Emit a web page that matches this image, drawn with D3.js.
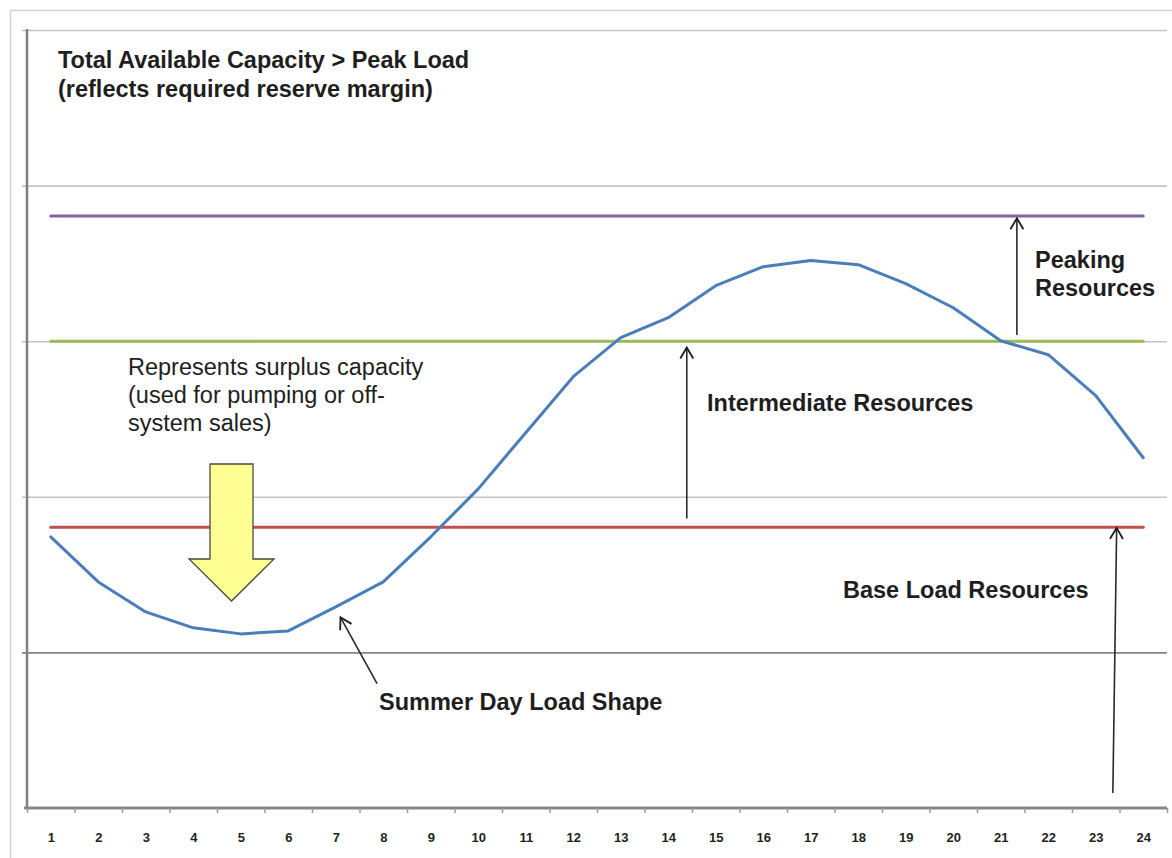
<!DOCTYPE html>
<html><head><meta charset="utf-8">
<script src="https://cdn.jsdelivr.net/npm/d3@7/dist/d3.min.js"></script>
<style>
body{margin:0;background:#fff}
svg{display:block}
text{font-family:"Liberation Sans",Arial,sans-serif;fill:#1e1e1e}
</style>
</head><body>
<svg id="chart" width="1172" height="858"></svg>
<script>
// ---- data ----
const hours = [1,2,3,4,5,6,7,8,9,10,11,12,13,14,15,16,17,18,19,20,21,22,23,24];
const hourLabels = ["1","2","3","4","5","6","7","8","9","10","11","12","13","14","15","16","17","18","19","20","21","22","23","24"];
const summerDayLoad = [1.743,1.453,1.260,1.158,1.119,1.138,1.293,1.453,1.743,2.051,2.412,2.772,3.023,3.151,3.357,3.479,3.518,3.492,3.370,3.215,3.003,2.913,2.650,2.251];
const baseLoadLevel = [1.805,1.805,1.805,1.805,1.805,1.805,1.805,1.805,1.805,1.805,1.805,1.805,1.805,1.805,1.805,1.805,1.805,1.805,1.805,1.805,1.805,1.805,1.805,1.805];
const intermediateLevel = [3.0,3.0,3.0,3.0,3.0,3.0,3.0,3.0,3.0,3.0,3.0,3.0,3.0,3.0,3.0,3.0,3.0,3.0,3.0,3.0,3.0,3.0,3.0,3.0];
const peakingLevel = [3.805,3.805,3.805,3.805,3.805,3.805,3.805,3.805,3.805,3.805,3.805,3.805,3.805,3.805,3.805,3.805,3.805,3.805,3.805,3.805,3.805,3.805,3.805,3.805];
const yGridValues = [1,2,3,4,5];

(function(){
// ---- layout ----
const svg = d3.select("#chart");
const pLeft = 27, pRight = 1167, pTop = 30, pBottom = 808;
const x = d3.scaleLinear().domain([0.5, 24.5]).range([pLeft, pRight]);
const y = d3.scaleLinear().domain([0, 5]).range([pBottom, pTop]);

// outer frame
svg.append("rect").attr("x",10.5).attr("y",10.5).attr("width",1200).attr("height",900)
  .attr("fill","none").attr("stroke","#d2d2d2").attr("stroke-width",1.5);

// gridlines
const grid = svg.append("g").attr("transform",`translate(${pLeft-5},0)`)
  .call(d3.axisRight(y).tickValues(yGridValues).tickSize(pRight-pLeft+5).tickFormat(""));
grid.select(".domain").remove();
grid.selectAll(".tick line")
  .attr("stroke", d => d === 1 ? "#858585" : "#c4c4c4")
  .attr("stroke-width", 1.6);

// series lines
const line = d3.line().x((d,i) => x(hours[i])).y(d => y(d));
function drawSeries(vals, color){
  svg.append("path").datum(vals).attr("d", line)
    .attr("fill","none").attr("stroke",color).attr("stroke-width",3)
    .attr("stroke-linejoin","round").attr("stroke-linecap","round");
}
drawSeries(peakingLevel, "#8064A2");
drawSeries(intermediateLevel, "#9BBB59");
drawSeries(baseLoadLevel, "#C0504D");
drawSeries(summerDayLoad, "#4A7EBB");

// axes
svg.append("line").attr("x1",pLeft).attr("x2",pLeft).attr("y1",pTop-1).attr("y2",pBottom)
  .attr("stroke","#7f7f7f").attr("stroke-width",2.5);

const xTicks = svg.append("g").attr("transform",`translate(0,${pBottom})`)
  .call(d3.axisBottom(x).tickValues([0.5].concat(hours.map(h => h + 0.5))).tickSize(5).tickSizeOuter(0).tickFormat(""));
xTicks.select(".domain").attr("stroke","#858585").attr("stroke-width",3).attr("d",`M${pLeft-3},0H${pRight}`);
xTicks.selectAll(".tick line").attr("stroke","#9a9a9a").attr("stroke-width",1.5);

const xLabels = svg.append("g").attr("transform",`translate(0,${pBottom})`)
  .call(d3.axisBottom(x).tickValues(hours).tickSize(0).tickPadding(25).tickFormat((d,i) => hourLabels[i]));
xLabels.select(".domain").remove();
xLabels.selectAll("text").attr("font-family","'Liberation Sans',Arial,sans-serif")
  .attr("font-size",13).attr("font-weight","bold").attr("fill","#222");

// yellow block arrow (surplus capacity)
const ya = {cx: 231.5, top: 464, shaftHalf: 21.5, headBase: 559, headHalf: 42.5, tip: 601};
svg.append("path")
  .attr("d", `M${ya.cx-ya.shaftHalf},${ya.top}H${ya.cx+ya.shaftHalf}V${ya.headBase}H${ya.cx+ya.headHalf}L${ya.cx},${ya.tip}L${ya.cx-ya.headHalf},${ya.headBase}H${ya.cx-ya.shaftHalf}Z`)
  .attr("fill","#FFFF94").attr("stroke","#4a4a3a").attr("stroke-width",1.3).attr("stroke-linejoin","miter");

// thin arrows (data coordinates)
function arrow(h1, v1, h2, v2){
  const x1 = x(h1), y1 = y(v1), x2 = x(h2), y2 = y(v2);
  const g = svg.append("g");
  g.append("line").attr("x1",x1).attr("y1",y1).attr("x2",x2).attr("y2",y2)
    .attr("stroke","#2a2a2a").attr("stroke-width",1.6);
  const ang = Math.atan2(y2-y1, x2-x1);
  const L = 11, W = 6.5;
  const bx = x2 - L*Math.cos(ang), by = y2 - L*Math.sin(ang);
  const px = -Math.sin(ang)*W, py = Math.cos(ang)*W;
  g.append("path").attr("d",`M${bx+px},${by+py}L${x2},${y2}L${bx-px},${by-py}`)
    .attr("fill","none").attr("stroke","#1e1e1e").attr("stroke-width",1.8);
}
arrow(21.34, 3.04, 21.34, 3.79);   // peaking
arrow(14.39, 1.86, 14.39, 2.96);   // intermediate
arrow(23.36, 0.096, 23.44, 1.80);  // base load
arrow(7.87, 0.80, 7.10, 1.225);    // summer day load shape

// text annotations
function txt(str, px, py, bold){
  svg.append("text").attr("x",px).attr("y",py).text(str)
    .attr("font-size",23.5).attr("font-weight", bold ? "bold" : "normal");
}
txt("Total Available Capacity > Peak Load", 58, 68, true);
txt("(reflects required reserve margin)", 58, 97, true);
txt("Represents surplus capacity", 128, 375, false);
txt("(used for pumping or off-", 128, 403, false);
txt("system sales)", 128, 431, false);
txt("Intermediate Resources", 707, 411, true);
txt("Peaking", 1035, 268, true);
txt("Resources", 1035, 296, true);
txt("Base Load Resources", 843, 598, true);
txt("Summer Day Load Shape", 379, 710, true);
})();
</script>
</body></html>
